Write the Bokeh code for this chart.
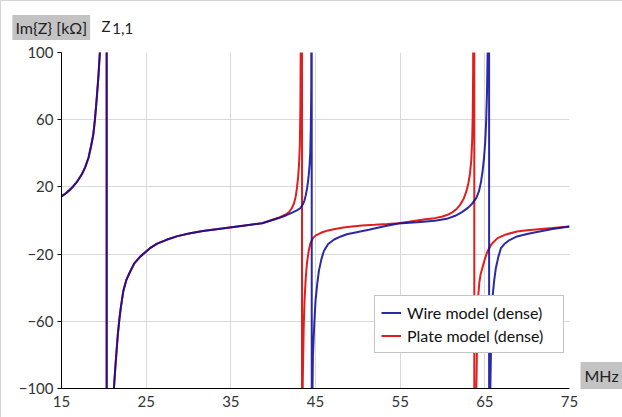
from bokeh.plotting import figure
from bokeh.models import Range1d, FixedTicker, Label, Legend, LegendItem, ColumnDataSource
from bokeh.embed import file_html
from bokeh.resources import INLINE

# ---- data ----
wire_x = [15, 15.6, 16.2, 16.8, 17.4, 17.8, 18.2, 18.5, 18.75, 18.95, 19.15, 19.35, 19.53, 19.6,
          20.33, 20.34, 21.1, 21.19, 21.35, 21.5, 21.65, 21.83, 22.0, 22.3, 22.65, 23.1, 23.6,
          24.3, 25.45, 26.3, 27.4, 28.7, 30.2, 31.7, 33.3, 36.0, 38.7, 40.6, 41.5, 42.3,
          42.8, 43.2, 43.5, 43.7, 43.85, 44.0, 44.1, 44.2, 44.3, 44.38, 44.45, 44.5,
          44.55, 44.56, 44.62, 44.7, 44.85, 45.0, 45.2, 45.4, 45.7, 46.0, 46.5, 47.2, 48.0,
          48.7, 50.0, 51.3, 53.0, 54.8, 57.0, 59.1, 60.5, 61.5, 62.3, 63.0, 63.5, 64.0, 64.3,
          64.55, 64.75, 64.9, 65.05, 65.15, 65.25, 65.35,
          65.5, 65.51, 65.6, 65.65, 65.75, 65.9, 66.1, 66.3, 66.6, 66.9, 67.3, 67.8, 68.8,
          70.0, 71.0, 73.0, 75.0]
wire_y = [14.3, 16.5, 19.3, 22.8, 27.5, 31.8, 37.5, 44.5, 51, 60, 72, 85, 100, 115,
          600, -600, -115, -100, -88, -78, -68, -59, -52, -42, -35.5, -30.5, -25.5,
          -21.5, -16.5, -13.8, -11.5, -9.3, -7.6, -6.3, -5.2, -3.4, -1.6, 1.3, 3.0, 4.8,
          6.0, 7.3, 9.5, 12, 15, 19, 22.5, 27, 33, 40, 55, 80,
          600, -600, -110, -80, -62, -48, -38, -30, -23, -18, -14, -11.3, -9.5,
          -8.2, -6.8, -5.5, -3.6, -1.8, -1.0, -0.2, 1.0, 2.8, 5.0, 7.5, 10, 13.5, 17.3,
          23, 30, 37, 47, 58, 75, 105,
          600, -600, -115, -100, -70, -46, -36, -28.4, -21.5, -16.5, -14, -12, -9.5,
          -8.0, -7.0, -5.0, -3.6]

plate_x = [15, 15.6, 16.2, 16.8, 17.4, 17.8, 18.2, 18.5, 18.75, 18.95, 19.15, 19.35, 19.53, 19.6,
           20.33, 20.34, 21.1, 21.19, 21.35, 21.5, 21.65, 21.83, 22.0, 22.3, 22.65, 23.1, 23.6,
           24.3, 25.45, 26.3, 27.4, 28.7, 30.2, 31.7, 33.3, 36.0, 38.7, 40.6, 41.5, 41.9,
           42.2, 42.45, 42.65, 42.8, 42.95, 43.05, 43.15, 43.22, 43.27,
           43.4, 43.41, 43.45, 43.5, 43.6, 43.7, 43.85, 44.0, 44.2, 44.4, 44.7, 45.0, 45.4,
           45.8, 46.5, 47.3, 48.3, 49.3, 50.5, 52.0, 53.5, 54.8, 56.0, 57.0, 58.0, 59.1, 60.0,
           60.6, 61.2, 61.7, 62.1, 62.5, 62.8, 63.05, 63.25, 63.4, 63.5, 63.57, 63.62,
           63.75, 63.76, 63.95, 64.0, 64.1, 64.2, 64.35, 64.5, 64.7, 65.0, 65.3, 65.8, 66.5,
           67.5, 68.8, 70.0, 71.0, 73.0, 75.0]
plate_y = [14.3, 16.5, 19.3, 22.8, 27.5, 31.8, 37.5, 44.5, 51, 60, 72, 85, 100, 115,
           600, -600, -115, -100, -88, -78, -68, -59, -52, -42, -35.5, -30.5, -25.5,
           -21.5, -16.5, -13.8, -11.5, -9.3, -7.6, -6.3, -5.2, -3.4, -1.6, 1.6, 3.6, 5.2,
           7.3, 10, 14, 19, 26, 33, 45, 70, 120,
           600, -600, -120, -95, -65, -48, -34, -25, -18, -13.5, -10.5, -9.0, -8.0,
           -7.0, -5.9, -5.0, -4.2, -3.6, -3.0, -2.6, -2.1, -1.6, -0.8, 0.0, 0.7, 1.4, 2.4,
           3.4, 5.0, 7.0, 9.5, 13, 17, 22, 28, 36, 47, 62, 90,
           600, -600, -115, -100, -65, -46, -37, -32, -28.4, -23, -18.5, -14, -10.5,
           -8.3, -6.5, -5.8, -5.3, -4.5, -3.6]

x_ticks = [15, 25, 35, 45, 55, 65, 75]
y_ticks = [-100, -60, -20, 20, 60, 100]
series_names = ["Wire model (dense)", "Plate model (dense)"]

BLUE = "#0c0c9a"
RED = "#e01e1e"
FONT = "Lato"
GRAY_BOX = "#c3c3c3"
TXT = "#222222"

p = figure(frame_width=508, frame_height=336, output_backend="svg", toolbar_location=None,
           x_range=Range1d(15, 75), y_range=Range1d(-100, 100))
p.min_border_left = 60
p.min_border_right = 54
p.min_border_top = 51
p.min_border_bottom = 30
p.outline_line_color = None
p.background_fill_color = "white"
p.border_fill_color = "white"
p.styles = {"border": "1px solid #d4d4d4"}

p.xaxis.ticker = FixedTicker(ticks=x_ticks)
p.yaxis.ticker = FixedTicker(ticks=y_ticks)
for ax in (p.xaxis[0], p.yaxis[0]):
    ax.axis_line_color = "black"
    ax.axis_line_width = 1
    ax.major_label_text_font = FONT
    ax.major_label_text_font_size = "15px"
    ax.major_label_text_color = "#333333"
    ax.minor_tick_line_color = None
    ax.major_tick_line_color = "black"
    ax.major_tick_in = 0
p.xaxis.major_tick_out = 0
p.xaxis.major_label_standoff = 7
p.yaxis.major_tick_out = 4
p.yaxis.major_label_standoff = 4

p.xgrid.ticker = FixedTicker(ticks=x_ticks)
p.ygrid.ticker = FixedTicker(ticks=y_ticks)
p.xgrid.grid_line_color = "#d9d9d9"
p.ygrid.grid_line_color = "#d9d9d9"

src_p = ColumnDataSource(dict(x=plate_x, y=plate_y))
src_w = ColumnDataSource(dict(x=wire_x, y=wire_y))
r_plate = p.line("x", "y", source=src_p, line_color=RED, line_width=2)
r_wire = p.line("x", "y", source=src_w, line_color=BLUE, line_width=2, line_alpha=0.88)

legend = Legend(items=[LegendItem(label=series_names[0], renderers=[r_wire]),
                       LegendItem(label=series_names[1], renderers=[r_plate])],
                location=(313, 35))
legend.label_text_font = FONT
legend.label_text_font_size = "16px"
legend.label_text_color = "#111111"
legend.border_line_color = "#8a8a8a"
legend.border_line_width = 1
legend.padding = 6
legend.spacing = 2
legend.label_height = 21
legend.glyph_height = 21
legend.glyph_width = 20
legend.label_standoff = 6
legend.label_width = 150
legend.margin = 0
legend.background_fill_alpha = 1
p.add_layout(legend, "center")

# texts outside the plot area: side-panel labels placed with the plot's own data scale
p.add_layout(Label(x=9.2, y=114.9, text="Im{Z} [kΩ]", text_font=FONT, text_font_size="16px",
                   text_color=TXT, text_baseline="middle", text_align="left",
                   background_fill_color=GRAY_BOX, padding=3), "above")
p.add_layout(Label(x=21.0, y=114.0, text="1,1", text_font=FONT, text_font_size="15px",
                   text_color=TXT, text_baseline="middle", text_align="left"), "above")
p.add_layout(Label(x=19.72, y=115.6, text="Z", text_font=FONT, text_font_size="15px",
                   text_color=TXT, text_baseline="middle", text_align="left"), "left")
p.add_layout(Label(x=76.3, y=-92.3, text="MHz", text_font=FONT, text_font_size="16px",
                   text_color=TXT, text_baseline="middle", text_align="left",
                   background_fill_color=GRAY_BOX, padding=4), "right")

open("out.html", "w").write(file_html(p, INLINE))
